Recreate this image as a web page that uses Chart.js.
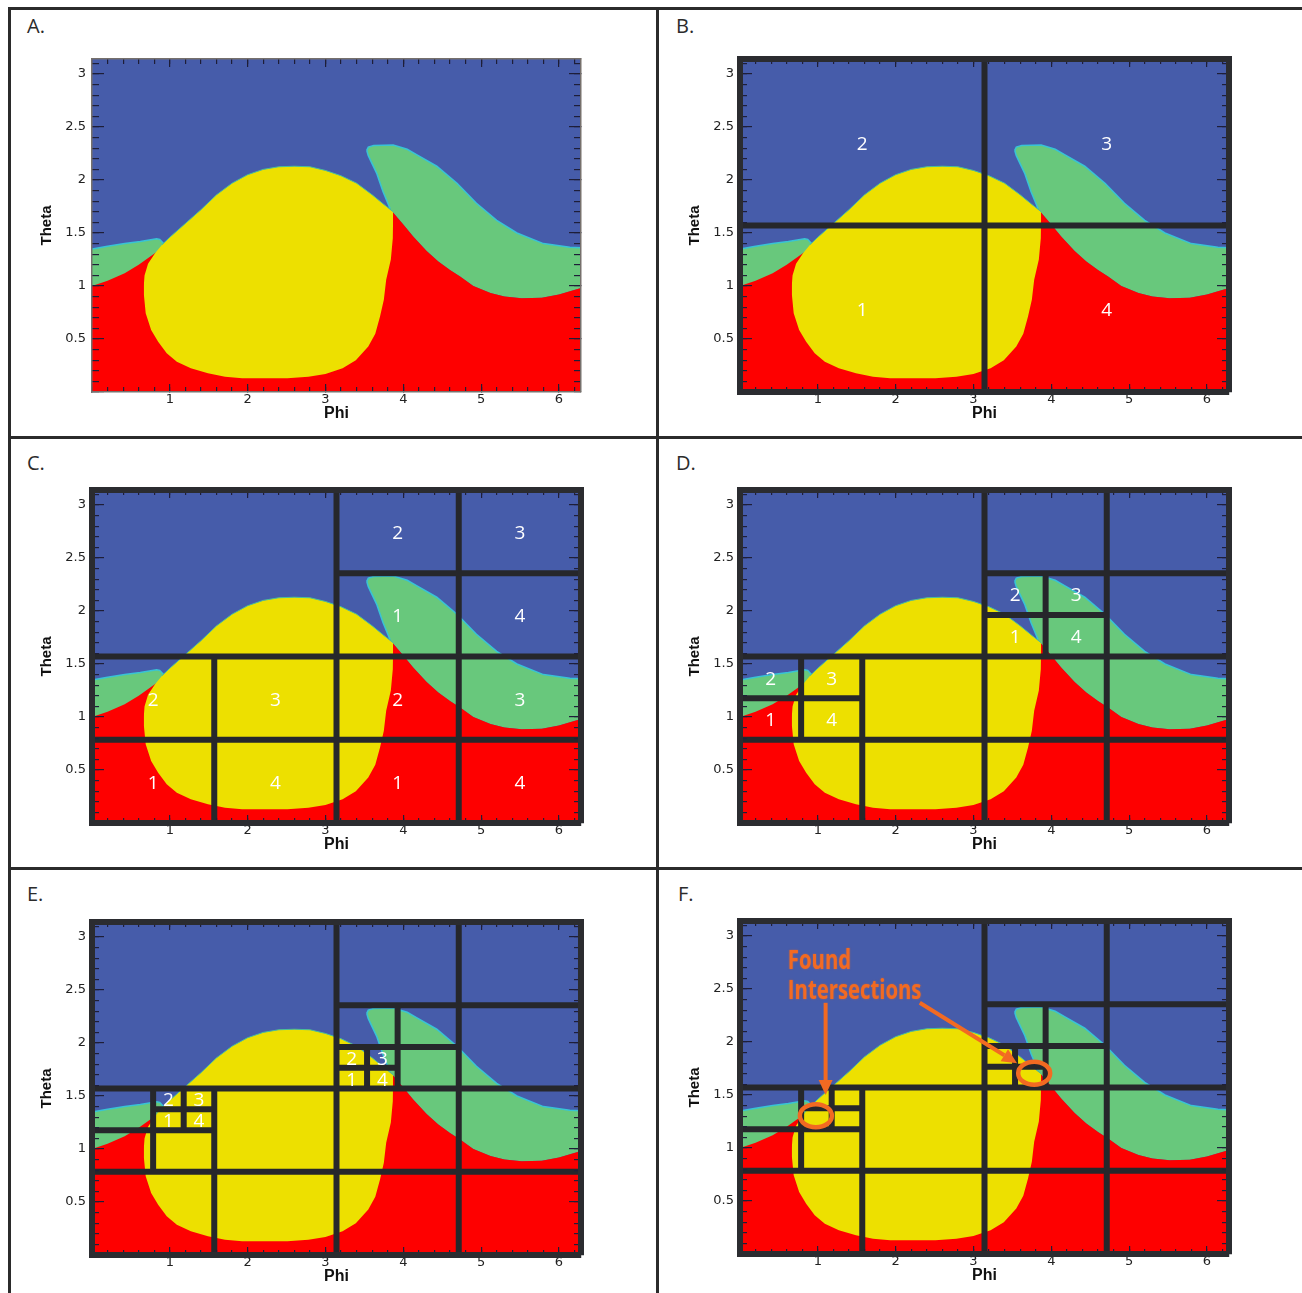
<!DOCTYPE html>
<html>
<head>
<meta charset="utf-8">
<script src="https://cdn.jsdelivr.net/npm/chart.js@4/dist/chart.umd.min.js"></script>
<style>
  html, body { margin: 0; padding: 0; background: #fff; }
  body { width: 1302px; height: 1293px; position: relative; overflow: hidden; }
  .rule { position: absolute; background: #2b2b2b; }
  .letter { position: absolute; font: 20px "Open Sans", sans-serif; color: #2b2b2b; line-height: 26px; }
  .box { position: absolute; }
</style>
</head>
<body>
<!-- figure frame and panel separators -->
<div class="rule" style="left:8px;top:7px;width:1294px;height:3px"></div>
<div class="rule" style="left:8px;top:7px;width:3px;height:1286px"></div>
<div class="rule" style="left:656px;top:7px;width:3px;height:1286px"></div>
<div class="rule" style="left:8px;top:436px;width:1294px;height:3px"></div>
<div class="rule" style="left:8px;top:867px;width:1294px;height:3px"></div>

<div class="letter" style="left:27px;top:13px">A.</div>
<div class="letter" style="left:676px;top:13px">B.</div>
<div class="letter" style="left:27px;top:450px">C.</div>
<div class="letter" style="left:676px;top:450px">D.</div>
<div class="letter" style="left:27px;top:881px">E.</div>
<div class="letter" style="left:678px;top:881px">F.</div>

<script>
const PI = Math.PI, TAU = 2 * Math.PI;

// ---- region boundaries, (phi, theta) pairs ----
const blueTop = [[0, PI], [TAU, PI]];
const greenLeftTop = [[0, 1.35], [0.2, 1.375], [0.42, 1.40], [0.62, 1.42], [0.83, 1.445], [0.87, 1.44], [0.92, 1.40]];
const greenBandTop = [[3.53, 2.28], [3.55, 2.31], [3.62, 2.325], [3.87, 2.33], [4.05, 2.29], [4.17, 2.24], [4.43, 2.13], [4.69, 1.97], [4.94, 1.78], [5.20, 1.62], [5.46, 1.50], [5.80, 1.40], [6.14, 1.365], [TAU, 1.36]];
const greenBandBottom = [[3.53, 2.28], [3.55, 2.23], [3.66, 2.06], [3.74, 1.89], [3.83, 1.73], [3.86, 1.70], [4.0, 1.58], [4.13, 1.465], [4.3, 1.33], [4.45, 1.23], [4.6, 1.15], [4.73, 1.09], [4.9, 1.0], [5.12, 0.935], [5.3, 0.90], [5.52, 0.885], [5.78, 0.89], [6.0, 0.92], [TAU, 0.98]];
const redTop = [[0, 1.0], [0.2, 1.05], [0.42, 1.12], [0.6, 1.2], [0.83, 1.32], [0.9, 1.3], [3.8, 1.3], [3.86, 1.70], [4.0, 1.58], [4.13, 1.465], [4.3, 1.33], [4.45, 1.23], [4.6, 1.15], [4.73, 1.09], [4.9, 1.0], [5.12, 0.935], [5.3, 0.90], [5.52, 0.885], [5.78, 0.89], [6.0, 0.92], [TAU, 0.98]];
const yellowTop = [[0.665, 1.0], [0.675, 1.10], [0.72, 1.21], [0.81, 1.31], [0.90, 1.39], [1.0, 1.46], [1.2, 1.59], [1.4, 1.72], [1.6, 1.86], [1.8, 1.97], [2.0, 2.05], [2.2, 2.10], [2.4, 2.125], [2.6, 2.13], [2.8, 2.125], [3.0, 2.09], [3.2, 2.04], [3.4, 1.97], [3.6, 1.86], [3.75, 1.77], [3.87, 1.70]];
const yellowBottom = [[0.665, 0.98], [0.667, 0.915], [0.69, 0.742], [0.76, 0.585], [0.85, 0.475], [0.96, 0.365], [1.09, 0.286], [1.27, 0.223], [1.49, 0.176], [1.71, 0.145], [1.93, 0.129], [2.51, 0.129], [2.78, 0.145], [3.0, 0.17], [3.22, 0.223], [3.39, 0.30], [3.55, 0.43], [3.64, 0.55], [3.70, 0.71], [3.75, 0.87], [3.78, 1.06], [3.84, 1.25], [3.865, 1.45], [3.87, 1.69]];

// ---- quadtree subdivisions: cells [phiMin, phiMax, thetaMin, thetaMax] in units of pi ----
const splitsB = [[0, 2, 0, 1]];
const splitsC = [[0, 1, 0, 0.5], [1, 2, 0, 0.5], [1, 2, 0.5, 1]];
const splitsD = [[1, 1.5, 0.5, 0.75], [0, 0.5, 0.25, 0.5]];
const splitsE = [[1, 1.25, 0.5, 0.625], [0.25, 0.5, 0.375, 0.5]];

// ---- tick values ----
const phiTicks = [1, 2, 3, 4, 5, 6];
const thetaTicks = [0.5, 1, 1.5, 2, 2.5, 3];

// ---- callout in panel F ----
const calloutText = ['Found', 'Intersections'];
const calloutAt = [[0.615, 2.69], [0.615, 2.41]];
const foundAt = [[0.975, 1.305], [3.78, 1.705]];
const arrowFrom = [[1.10, 2.37], [2.31, 2.37]];
const arrowTo = [[1.10, 1.50], [3.56, 1.80]];

const COLORS = { blue: '#465caa', green: '#68c87c', red: '#fe0000', yellow: '#ede000', edge: '#38c3d6', yEdge: '#48bf9c', grid: '#26272b', orange: '#f26a22' };

const panels = [
  { area: [92, 59, 581, 392], thick: false, splits: [], numbered: [] },
  { area: [740, 59, 1229, 392], thick: true, splits: splitsB, numbered: splitsB },
  { area: [92, 490, 581, 823], thick: true, splits: [...splitsB, ...splitsC], numbered: splitsC },
  { area: [740, 490, 1229, 823], thick: true, splits: [...splitsB, ...splitsC, ...splitsD], numbered: splitsD },
  { area: [92, 922, 581, 1255], thick: true, splits: [...splitsB, ...splitsC, ...splitsD, ...splitsE], numbered: splitsE },
  { area: [740, 921, 1229, 1254], thick: true, splits: [...splitsB, ...splitsC, ...splitsD, ...splitsE], numbered: [], callout: true }
];

const PAD_L = 80, PAD_T = 48, PAD_R = 14, PAD_B = 40;

const pts = arr => arr.map(([x, y]) => ({ x, y }));

function splitLines(splits) {
  const out = [];
  for (const [a, b, c, d] of splits) {
    const m = (a + b) / 2 * PI, n = (c + d) / 2 * PI;
    out.push({ x: m, y: c * PI }, { x: m, y: d * PI }, { x: m, y: null });
    out.push({ x: a * PI, y: n }, { x: b * PI, y: n }, { x: a * PI, y: null });
  }
  return out;
}

function line(data, extra) {
  return Object.assign({ data, pointRadius: 0, pointHoverRadius: 0, borderWidth: 0, tension: 0, fill: false, xAxisID: 'x', yAxisID: 'y' }, extra);
}

function scales(thick) {
  const border = { display: true, width: thick ? 6 : 1.5, color: thick ? '#2b2c30' : '#76706c', z: 2 };
  const noBorder = { display: false };
  const tc = '#1e1e38';
  const grid = tl => ({ drawOnChartArea: false, drawTicks: true, tickLength: tl, color: tc, lineWidth: 1.2, z: 1 });
  const tickFont = { family: 'DejaVu Sans', size: 13 };
  const hideZero = v => (v === 0 ? '' : String(+v.toFixed(1)));
  return {
    x: { type: 'linear', position: 'bottom', min: 0, max: TAU, weight: 1,
      afterBuildTicks: s => { s.ticks = [0, ...phiTicks].map(value => ({ value })); },
      ticks: { padding: 8, color: '#222', font: tickFont, maxRotation: 0, autoSkip: false, callback: hideZero },
      grid: grid(-8), border,
      title: { display: true, text: 'Phi', color: '#111', font: { family: 'Liberation Sans', size: 16, weight: 'bold' }, padding: { top: 0, bottom: 9 } },
      afterFit: s => { s.height = PAD_B; } },
    xTop: { type: 'linear', position: 'top', min: 0, max: TAU, weight: 1,
      afterBuildTicks: s => { s.ticks = phiTicks.map(value => ({ value })); },
      ticks: { display: false }, grid: grid(-8), border,
      afterFit: s => { s.height = PAD_T; } },
    xMinor: { type: 'linear', position: 'bottom', min: 0, max: TAU, weight: 0,
      ticks: { display: false, stepSize: 0.2, includeBounds: false }, grid: grid(-5), border: noBorder,
      afterFit: s => { s.height = 0; } },
    xMinorTop: { type: 'linear', position: 'top', min: 0, max: TAU, weight: 0,
      ticks: { display: false, stepSize: 0.2, includeBounds: false }, grid: grid(-5), border: noBorder,
      afterFit: s => { s.height = 0; } },
    y: { type: 'linear', position: 'left', min: 0, max: PI, weight: 1,
      afterBuildTicks: s => { s.ticks = [0, ...thetaTicks].map(value => ({ value })); },
      ticks: { padding: 18, color: '#222', font: tickFont, autoSkip: false, callback: hideZero },
      grid: grid(-12), border,
      title: { display: true, text: 'Theta', color: '#111', font: { family: 'Liberation Sans', size: 15, weight: 'bold' }, padding: { top: 26, bottom: 0 } },
      afterFit: s => { s.width = PAD_L; } },
    yRight: { type: 'linear', position: 'right', min: 0, max: PI, weight: 1,
      afterBuildTicks: s => { s.ticks = thetaTicks.map(value => ({ value })); },
      ticks: { display: false }, grid: grid(-12), border,
      afterFit: s => { s.width = PAD_R; } },
    yMinor: { type: 'linear', position: 'left', min: 0, max: PI, weight: 0,
      ticks: { display: false, stepSize: 0.1, includeBounds: false }, grid: grid(-7), border: noBorder,
      afterFit: s => { s.width = 0; } },
    yMinorRight: { type: 'linear', position: 'right', min: 0, max: PI, weight: 0,
      ticks: { display: false, stepSize: 0.1, includeBounds: false }, grid: grid(-7), border: noBorder,
      afterFit: s => { s.width = 0; } }
  };
}

// quadrant numbers and the callout, placed through the chart's own scales
const overlay = {
  id: 'overlay',
  afterDraw(chart, args, opts) {
    const { ctx } = chart;
    const sx = chart.scales.x, sy = chart.scales.y;
    const X = v => sx.getPixelForValue(v), Y = v => sy.getPixelForValue(v);
    ctx.save();
    ctx.fillStyle = '#fff';
    ctx.font = '19px "Open Sans", sans-serif';
    ctx.textAlign = 'center';
    ctx.textBaseline = 'middle';
    for (const [a, b, c, d] of opts.numbered) {
      const m = (a + b) / 2, n = (c + d) / 2;
      const kids = [[a, m, c, n, '1'], [a, m, n, d, '2'], [m, b, n, d, '3'], [m, b, c, n, '4']];
      for (const [p0, p1, t0, t1, lab] of kids) {
        ctx.fillText(lab, X((p0 + p1) / 2 * PI), Y((t0 + t1) / 2 * PI) + 2);
      }
    }
    if (opts.callout) {
      ctx.strokeStyle = COLORS.orange;
      ctx.fillStyle = COLORS.orange;
      ctx.lineWidth = 4.5;
      for (const [px, py] of foundAt) {
        ctx.beginPath();
        ctx.ellipse(X(px), Y(py), 16, 11.5, 0, 0, TAU);
        ctx.stroke();
      }
      ctx.lineWidth = 4;
      arrowFrom.forEach(([fx, fy], i) => {
        const [tx, ty] = arrowTo[i];
        const x0 = X(fx), y0 = Y(fy), x1 = X(tx), y1 = Y(ty);
        const ang = Math.atan2(y1 - y0, x1 - x0);
        const head = 15, half = 7;
        const bx = x1 - head * Math.cos(ang), by = y1 - head * Math.sin(ang);
        ctx.beginPath(); ctx.moveTo(x0, y0); ctx.lineTo(bx, by); ctx.stroke();
        ctx.beginPath();
        ctx.moveTo(x1, y1);
        ctx.lineTo(bx + half * Math.sin(ang), by - half * Math.cos(ang));
        ctx.lineTo(bx - half * Math.sin(ang), by + half * Math.cos(ang));
        ctx.closePath(); ctx.fill();
      });
      ctx.font = 'bold 26px "Open Sans", sans-serif';
      ctx.textAlign = 'left';
      ctx.textBaseline = 'alphabetic';
      ctx.shadowColor = 'rgba(242,106,34,0.6)';
      ctx.shadowBlur = 2;
      calloutText.forEach((t, i) => {
        const [px, py] = calloutAt[i];
        ctx.save();
        ctx.translate(X(px), Y(py));
        ctx.scale(0.78, 1);
        ctx.fillText(t, 0, 0);
        ctx.restore();
      });
    }
    ctx.restore();
  }
};

Chart.defaults.font.family = 'Liberation Sans';

panels.forEach(p => {
  const [L, T, R, B] = p.area;
  const w = R - L + PAD_L + PAD_R, h = B - T + PAD_T + PAD_B;
  const box = document.createElement('div');
  box.className = 'box';
  box.style.left = (L - PAD_L) + 'px';
  box.style.top = (T - PAD_T) + 'px';
  box.style.width = w + 'px';
  box.style.height = h + 'px';
  const cv = document.createElement('canvas');
  cv.width = w; cv.height = h;
  cv.style.width = w + 'px'; cv.style.height = h + 'px';
  box.appendChild(cv);
  document.body.appendChild(box);

  new Chart(cv, {
    type: 'line',
    data: {
      datasets: [
        line(splitLines(p.splits), { order: 0, borderColor: COLORS.grid, borderWidth: 6, spanGaps: false }),
        line(pts(yellowTop), { order: 2, backgroundColor: COLORS.yellow, fill: 2 }),
        line(pts(yellowBottom), { order: 2 }),
        line(pts(redTop), { order: 3, backgroundColor: COLORS.red, fill: 'start' }),
        line(pts(greenLeftTop), { order: 4, backgroundColor: COLORS.green, fill: 'start', borderWidth: 1.5, borderColor: COLORS.edge }),
        line(pts(greenBandTop), { order: 5, backgroundColor: COLORS.green, fill: 6, borderWidth: 1.5, borderColor: COLORS.edge }),
        line(pts(greenBandBottom), { order: 5 }),
        line(pts(blueTop), { order: 9, backgroundColor: COLORS.blue, fill: 'start' }),
        // thin blue-facing edges of the yellow and green regions
        line(pts(yellowTop.filter(([x]) => x >= 0.9)), { order: 1.5, borderWidth: 1, borderColor: COLORS.yEdge }),
        line(pts(greenBandBottom.filter(([x]) => x <= 3.84)), { order: 4.5, borderWidth: 1.5, borderColor: COLORS.edge })
      ]
    },
    options: {
      responsive: false,
      animation: false,
      devicePixelRatio: 1,
      layout: { padding: 0 },
      plugins: { legend: { display: false }, tooltip: { enabled: false }, overlay: { numbered: p.numbered, callout: !!p.callout } },
      scales: scales(p.thick)
    },
    plugins: [overlay]
  });
});
</script>
</body>
</html>
